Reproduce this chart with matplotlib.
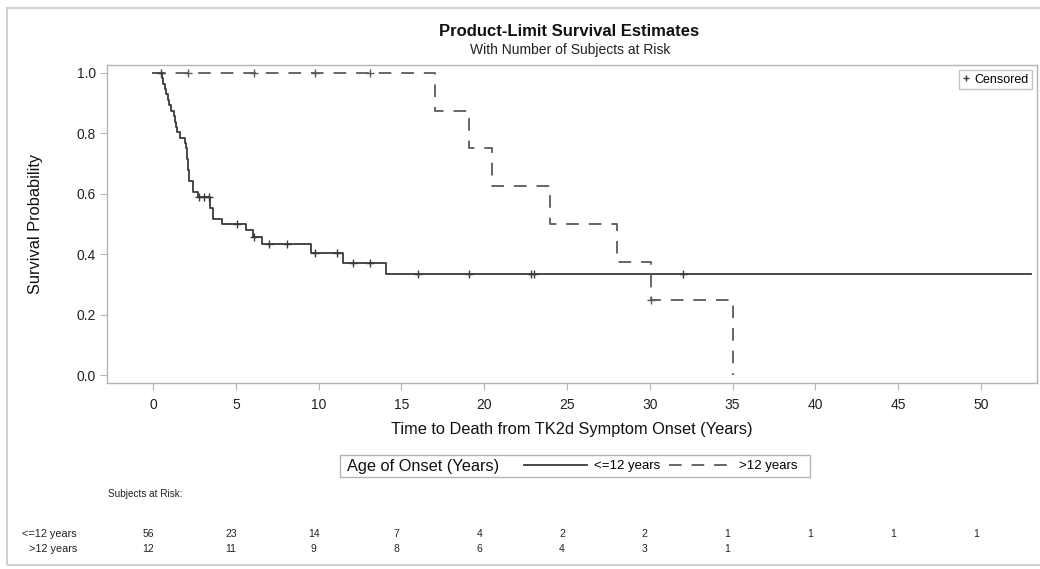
import numpy as np
import matplotlib
matplotlib.use("Agg")
from matplotlib import pyplot as plt
from matplotlib.lines import Line2D
from matplotlib.patches import Rectangle
from matplotlib import transforms

# =============================================================================
# Kaplan-Meier estimates, age of onset <=12 years
young_time = [0.0, 0.55, 0.62, 0.70, 0.78, 0.88, 0.95, 1.10, 1.25, 1.33, 1.40,
              1.47, 1.60, 1.90, 2.00, 2.05, 2.10, 2.15, 2.40, 2.70, 3.45, 3.65,
              4.15, 5.60, 6.05, 6.60, 9.55, 11.50, 14.05, 53.0]
young_surv = [1.0, 0.982, 0.964, 0.946, 0.929, 0.911, 0.893, 0.875, 0.857,
              0.839, 0.821, 0.804, 0.786, 0.768, 0.750, 0.714, 0.679, 0.643,
              0.607, 0.589, 0.553, 0.518, 0.500, 0.479, 0.456, 0.433, 0.405,
              0.372, 0.335, 0.335]
young_censor = [0.5, 2.8, 3.1, 3.4, 5.05, 6.1, 7.0, 8.1, 9.8, 11.1, 12.1,
                13.1, 16.0, 19.1, 22.8, 23.0, 32.0]

# Age of onset >12 years
old_time = [0.0, 17.05, 19.1, 20.5, 24.0, 28.05, 30.05, 35.0]
old_surv = [1.0, 0.875, 0.75, 0.625, 0.5, 0.375, 0.25, 0.0]
old_censor = [2.1, 6.1, 9.8, 13.1, 30.1]

# Number at risk table
risk_times = [0, 5, 10, 15, 20, 25, 30, 35, 40, 45, 50]
young_risk = [56, 23, 14, 7, 4, 2, 2, 1, 1, 1, 1]
old_risk = [12, 11, 9, 8, 6, 4, 3, 1]

group_labels = ["<=12 years", ">12 years"]
x_ticks = [0, 5, 10, 15, 20, 25, 30, 35, 40, 45, 50]
y_ticks = [0.0, 0.2, 0.4, 0.6, 0.8, 1.0]
# =============================================================================

plt.rcParams["font.family"] = ["Liberation Sans", "DejaVu Sans"]

SOLID_COL = "#3a3a3a"
DASH_COL = "#5a5a5a"
GRID_COL = "#b4b4b4"


def surv_at(times, surv, t):
    idx = np.searchsorted(times, t, side="right") - 1
    return np.asarray(surv)[idx]


fig = plt.figure(figsize=(10.4, 5.69), dpi=100)
ax = fig.add_axes([0.1029, 0.3269, 0.8941, 0.5589])

ax.step(young_time, young_surv, where="post", color=SOLID_COL, lw=1.3)
ax.step(old_time, old_surv, where="post", color=DASH_COL, lw=1.3,
        linestyle=(0, (7, 5.5)))

ax.plot(young_censor, surv_at(young_time, young_surv, young_censor),
        linestyle="none", marker="+", ms=6, mew=1.0, color=SOLID_COL)
ax.plot(old_censor, surv_at(old_time, old_surv, old_censor),
        linestyle="none", marker="+", ms=6, mew=1.0, color=DASH_COL)

ax.set_xlim(-2.78, 53.38)
ax.set_ylim(-0.026, 1.026)
ax.set_xticks(x_ticks)
ax.set_yticks(y_ticks)
ax.set_yticklabels(["%.1f" % v for v in y_ticks])
ax.tick_params(axis="both", direction="out", length=5, width=0.8,
               color=GRID_COL, labelsize=10, labelcolor="#222222")
ax.tick_params(axis="x", pad=6)
ax.tick_params(axis="y", pad=3)
for side in ax.spines:
    ax.spines[side].set_color(GRID_COL)
    ax.spines[side].set_linewidth(1.0)

ax.set_xlabel("Time to Death from TK2d Symptom Onset (Years)", fontsize=11.8,
              labelpad=7, color="#111111")
ax.set_ylabel("Survival Probability", fontsize=11.8, labelpad=24,
              color="#111111")

fig.text(0.547, 0.945, "Product-Limit Survival Estimates", ha="center",
         va="center", fontsize=12, fontweight="bold", color="#111111")
fig.text(0.548, 0.913, "With Number of Subjects at Risk", ha="center",
         va="center", fontsize=10, color="#222222")

# censored marker key
cens_handle = Line2D([], [], marker="+", linestyle="none", color=SOLID_COL,
                     ms=5, mew=1.0)
leg_c = ax.legend([cens_handle], ["Censored"], loc="upper right",
                  fontsize=9, frameon=True, fancybox=False, handlelength=0.6,
                  handletextpad=0.3, borderpad=0.3, borderaxespad=0.4)
leg_c.get_frame().set_edgecolor(GRID_COL)
leg_c.get_frame().set_linewidth(1.0)

# group legend below the x label
fig.add_artist(Rectangle((340 / 1040, 1 - 477 / 569), 470 / 1040, 22 / 569,
                         transform=fig.transFigure, fill=False,
                         edgecolor=GRID_COL, lw=1.0))
fig.text(347 / 1040, 1 - 466 / 569, "Age of Onset (Years)", ha="left",
         va="center", fontsize=11.8, color="#111111")
group_handles = [Line2D([], [], color=SOLID_COL, lw=1.3),
                 Line2D([], [], color=DASH_COL, lw=1.3,
                        linestyle=(0, (7, 5.5)))]
fig.legend(group_handles, group_labels, loc="center left",
           bbox_to_anchor=(524 / 1040, 1 - 466 / 569), ncol=2, frameon=False,
           fontsize=9.5, handlelength=4.8, handletextpad=0.5,
           columnspacing=0.7, borderpad=0.0, borderaxespad=0.0)

# subjects at risk table
fig.text(108 / 1040, 1 - 494 / 569, "Subjects at Risk:", ha="left",
         va="center", fontsize=7.2, color="#222222")
row_y = [1 - 534 / 569, 1 - 549 / 569]
trans = transforms.blended_transform_factory(ax.transData, fig.transFigure)
for label, counts, y in zip(group_labels, [young_risk, old_risk], row_y):
    fig.text(77 / 1040, y, label, ha="right", va="center", fontsize=7.8,
             color="#222222")
    for t, n in zip(risk_times, counts):
        ax.text(t - 0.3, y, str(n), transform=trans, ha="center",
                va="center", fontsize=7.5, color="#222222", clip_on=False)

# light outer frame of the graph
fig.add_artist(Rectangle((7 / 1040, 4 / 569), 1.1, 557 / 569,
                         transform=fig.transFigure, fill=False,
                         edgecolor="#cfcfcf", lw=1.5, clip_on=False))

fig.savefig("out.png", dpi=100)
